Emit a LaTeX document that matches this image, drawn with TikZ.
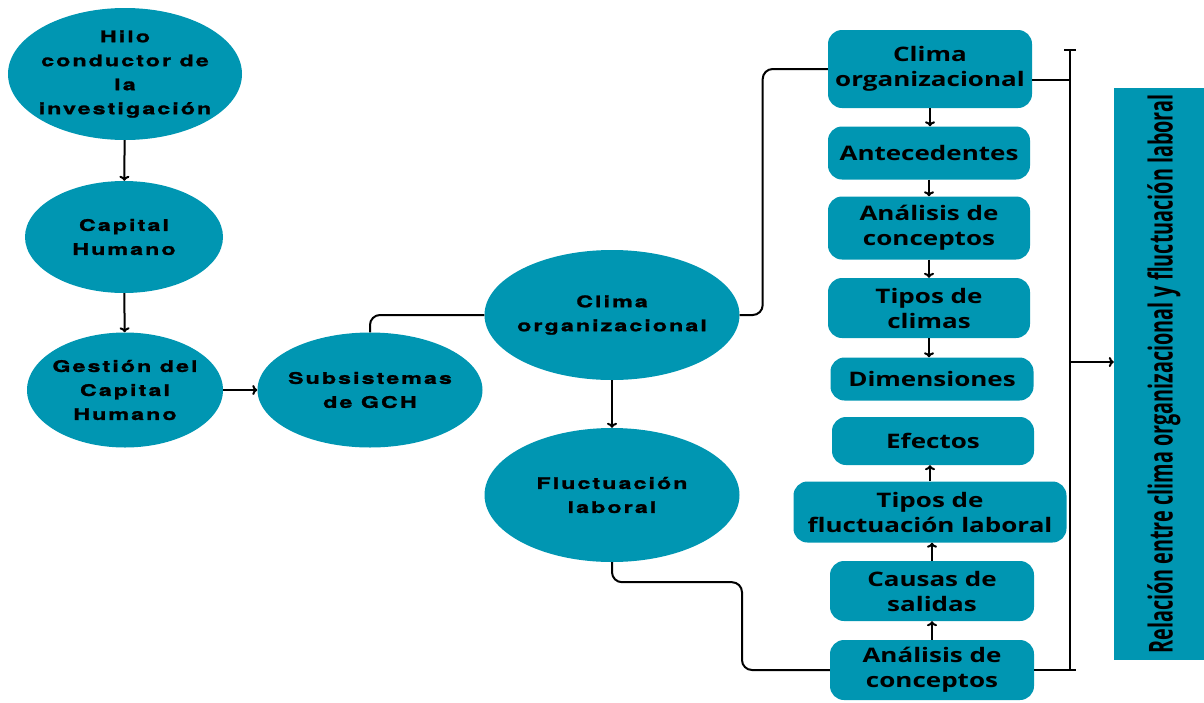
\documentclass[tikz,border=0pt]{standalone}
\usepackage{fontspec}
\usepackage{xcolor}
\usepackage{tikz}
\usetikzlibrary{positioning,shapes,arrows.meta,calc}

\definecolor{tealbox}{RGB}{0,150,178}
\newfontfamily\ellfont{TeX Gyre Heros}[FakeStretch=1.45,LetterSpace=13,FakeBold=1.5]
\newfontfamily\cardfont{Open Sans}[FakeStretch=1.3]
\newfontfamily\condfont{Open Sans}[FakeStretch=0.6]

\begin{document}
\begin{tikzpicture}[x=1pt,y=-1pt,
    bubble/.style={ellipse, fill=tealbox, inner xsep=-18pt, inner ysep=0pt, align=center,
        font=\ellfont\bfseries\fontsize{16}{24}\selectfont},
    card/.style={rounded corners=14pt, fill=tealbox, inner sep=0pt, align=center,
        font=\cardfont\bfseries\fontsize{20}{25}\selectfont},
    link/.style={line width=2pt, black},
    >={To[length=5pt,width=10pt]}]
    \useasboundingbox (0,0) rectangle (1204,702);

    % Left column
    \node[bubble, minimum width=234, minimum height=132] (hilo) at (125,74) {Hilo\\conductor de\\la\\investigación};
    \node[bubble, minimum width=198, minimum height=112] (cap) at (124,237) {Capital\\Humano};
    \node[bubble, minimum width=196, minimum height=115] (gest) at (125,390) {Gestión del\\Capital\\Humano};
    \node[bubble, minimum width=225, minimum height=115] (sub) at (370,390) {Subsistemas\\de GCH};
    \draw[link, ->] (hilo) -- (cap);
    \draw[link, ->] (cap) -- (gest);
    \draw[link, ->] (gest) -- (sub);

    % Middle column
    \node[bubble, minimum width=255, minimum height=130] (clima) at (612,315) {Clima\\organizacional};
    \node[bubble, minimum width=255, minimum height=134] (fluc) at (612,495) {Fluctuación\\laboral};
    \draw[link, ->] (clima) -- (fluc);
    \draw[link, rounded corners=10pt] (sub.north) |- (clima.west);

    % Clima organizacional
    \node[card, minimum width=204, minimum height=78] (c1) at (930,69) {Clima\\organizacional};
    \node[card, minimum width=202, minimum height=53] (c2) at (929,153) {Antecedentes};
    \node[card, minimum width=202, minimum height=63] (c3) at (929,228) {Análisis de\\conceptos};
    \node[card, minimum width=202, minimum height=60] (c4) at (929,308) {Tipos de\\climas};
    \node[card, minimum width=203, minimum height=43] (c5) at (932,379) {Dimensiones};
    \foreach \a/\b in {c1/c2,c2/c3,c3/c4,c4/c5}
        \draw[link, ->] (\a.south) -- (\a.south |- \b.north);
    \draw[link, rounded corners=10pt] (clima.east) -- ++(23,0) |- (c1.west);

    % Fluctuacion laboral
    \node[card, minimum width=202, minimum height=48] (c6) at (933,441) {Efectos};
    \node[card, minimum width=273, minimum height=61] (c7) at (930,512) {Tipos de\\fluctuación laboral};
    \node[card, minimum width=204, minimum height=60] (c8) at (932,591) {Causas de\\salidas};
    \node[card, minimum width=204, minimum height=60] (c9) at (932,670) {Análisis de\\conceptos};
    \foreach \a/\b in {c9/c8,c8/c7,c7/c6}
        \draw[link, ->] (\a.north) -- (\a.north |- \b.south);
    \draw[link, rounded corners=10pt] (fluc.south) -- ++(0,20) -- ++(130,0) |- (c9.west);

    % Bracket and result
    \coordinate (btop) at (1070,50);
    \coordinate (bbot) at (1070,670);
    \coordinate (bmid) at (1070,362);
    \coordinate (c1r) at ([yshift=-11pt]c1.east);
    \draw[link] (btop) -- (bbot);
    \draw[link] ([xshift=-6pt]btop) -- ([xshift=6pt]btop);
    \draw[link] ([xshift=-6pt]bbot) -- ([xshift=6pt]bbot);
    \draw[link] (c1r) -- (c1r -| btop);
    \draw[link] (c9.east) -- (c9.east -| bbot);
    \node[fill=tealbox, minimum width=90, minimum height=572, inner sep=0pt] (rel) at (1159,374) {};
    \node[rotate=90, font=\condfont\bfseries\fontsize{33}{33}\selectfont] (reltext) at (1164,374)
        {Relación entre clima organizacional y fluctuación laboral};
    \draw[link, ->] (bmid) -- (bmid -| rel.west);
\end{tikzpicture}
\end{document}
